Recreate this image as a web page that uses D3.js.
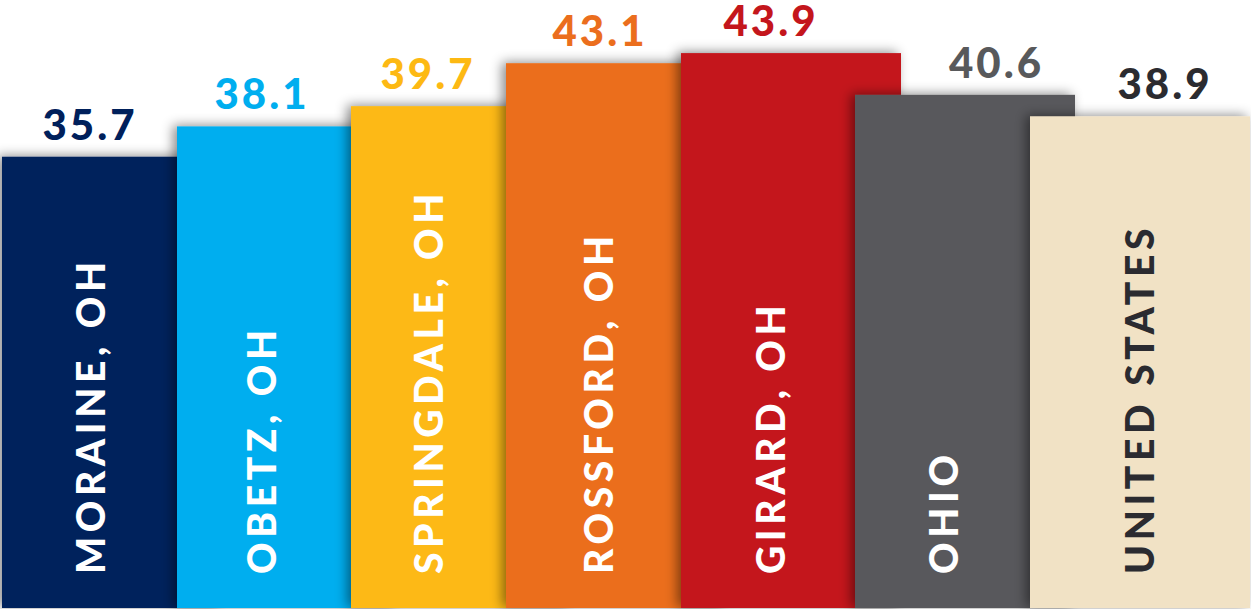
<!DOCTYPE html>
<html>
<head>
<meta charset="utf-8">
<script src="https://cdn.jsdelivr.net/npm/d3@7"></script>
<style>
  html, body { margin: 0; padding: 0; background: #ffffff; }
  svg { display: block; }
  text { font-family: Lato, "Open Sans", sans-serif; font-weight: 900; }
</style>
</head>
<body>
<svg id="chart" width="1251" height="609"></svg>
<script>
// Median age comparison
const categories = ["MORAINE, OH", "OBETZ, OH", "SPRINGDALE, OH", "ROSSFORD, OH", "GIRARD, OH", "OHIO", "UNITED STATES"];
const values = [35.7, 38.1, 39.7, 43.1, 43.9, 40.6, 38.9];
const valueLabels = ["35.7", "38.1", "39.7", "43.1", "43.9", "40.6", "38.9"];

// Presentation
const barColors = ["#00205b", "#00aeef", "#fdb913", "#eb6e1d", "#c4161c", "#58595b", "#f1e2c5"];
const valueColors = ["#00205b", "#00aeef", "#fdb913", "#eb6e1d", "#c4161c", "#58595b", "#2b2b30"];
const nameColors = ["#ffffff", "#ffffff", "#ffffff", "#ffffff", "#ffffff", "#ffffff", "#2b2b30"];

// Layout: overlapping columns, each one slid in front of the previous
const W = 1251, H = 609;
const baseline = 608;
const barWidth = 220;
const barLefts = [2, 177, 351, 506, 681, 855, 1030];
const nameOffsets = [89.5, 85.5, 78, 93, 90.5, 89.5, 110.5];
const valueOffsets = [88, 85, 77, 94, 90, 141.5, 135];

const svg = d3.select("#chart");

const x = d3.scaleOrdinal().domain(categories).range(barLefts);
const y = d3.scaleLinear().domain([0, 48.1]).range([baseline, 0]);

const defs = svg.append("defs");
const f = defs.append("filter")
  .attr("id", "colShadow")
  .attr("x", "-20%").attr("y", "-20%")
  .attr("width", "140%").attr("height", "140%");
f.append("feDropShadow")
  .attr("dx", -4).attr("dy", -1)
  .attr("stdDeviation", 6)
  .attr("flood-color", "#000")
  .attr("flood-opacity", 0.45);

const rows = categories.map((c, i) => ({
  name: c, value: values[i], label: valueLabels[i], i
}));

// columns, drawn left to right so each overlaps its neighbour
svg.append("g").selectAll("rect")
  .data(rows)
  .join("rect")
  .attr("x", d => x(d.name))
  .attr("y", d => y(d.value))
  .attr("width", barWidth)
  .attr("height", d => baseline - y(d.value))
  .attr("fill", d => barColors[d.i])
  .attr("filter", "url(#colShadow)");

// values above each column
svg.append("g").selectAll("text")
  .data(rows)
  .join("text")
  .attr("x", d => x(d.name) + valueOffsets[d.i])
  .attr("y", d => y(d.value) - 17)
  .attr("text-anchor", "middle")
  .attr("font-size", 42)
  .attr("letter-spacing", 3)
  .attr("fill", d => valueColors[d.i])
  .text(d => d.label);

// rotated category names
const nameY = 574;
svg.append("g").selectAll("text")
  .data(rows)
  .join("text")
  .attr("transform", d => `translate(${x(d.name) + nameOffsets[d.i]},${nameY}) rotate(-90)`)
  .attr("dy", "0.358em")
  .attr("text-anchor", "start")
  .attr("font-size", 39)
  .attr("letter-spacing", 4.6)
  .attr("fill", d => nameColors[d.i])
  .text(d => d.name);
</script>
</body>
</html>
